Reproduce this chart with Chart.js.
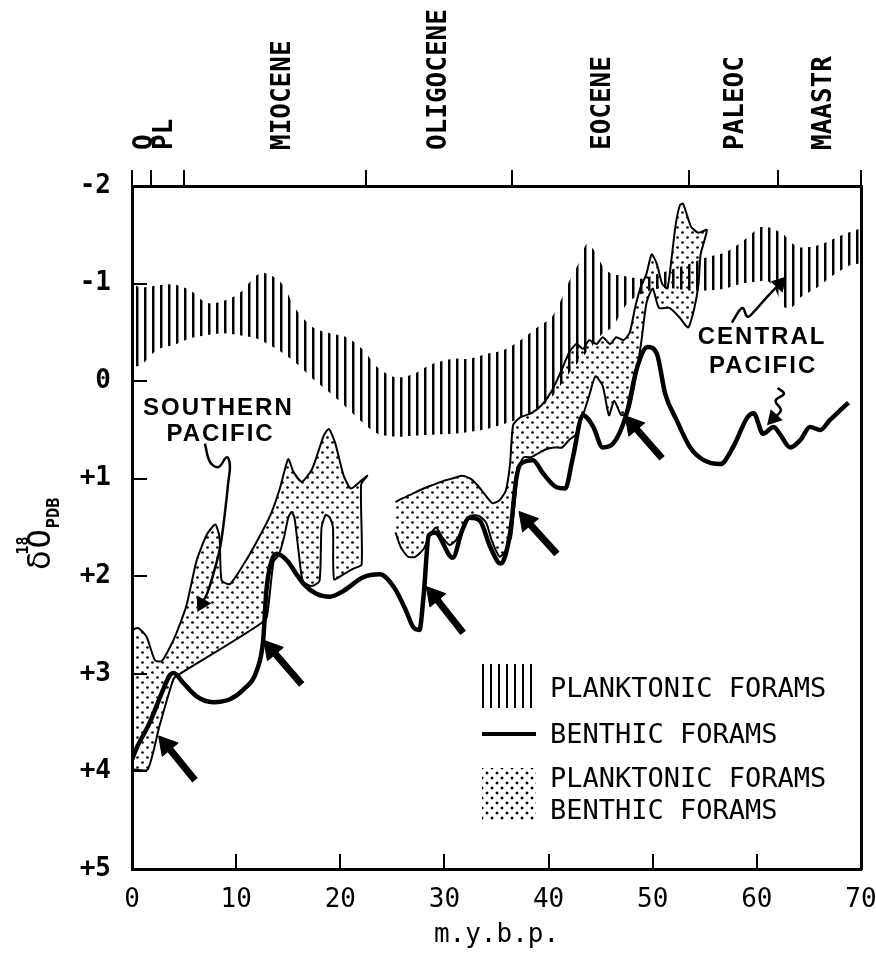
<!DOCTYPE html>
<html>
<head>
<meta charset="utf-8">
<title>Oxygen isotope record, planktonic and benthic forams</title>
<script src="https://cdn.jsdelivr.net/npm/chart.js@4.4.0/dist/chart.umd.min.js"></script>
<style>
  body { margin: 0; background: #fff; }
  #wrap { position: relative; width: 876px; height: 961px; }
  .leg { position: absolute; font-family: "DejaVu Sans Mono", monospace; font-size: 27px; color: #000; line-height: 30px; white-space: nowrap; }
  .sw { position: absolute; }
  #swHatch { left: 482px; top: 664px; width: 54px; height: 44px;
    background: repeating-linear-gradient(to right, #000 0 2.5px, transparent 2.5px 8px); }
  #swLine { left: 482px; top: 732px; width: 54px; height: 4px; background: #000; }
  #swDots { left: 482px; top: 768px; width: 54px; height: 52px;
    background-image: radial-gradient(circle, #000 1.3px, transparent 1.7px), radial-gradient(circle, #000 1.3px, transparent 1.7px);
    background-size: 10px 10px, 10px 10px; background-position: 0 0, 5px 5px; }
</style>
</head>
<body>
<div id="wrap">
  <canvas id="chart" width="876" height="961"></canvas>
  <div class="sw" id="swHatch"></div>
  <div class="leg" style="left:550px; top:673px;">PLANKTONIC FORAMS</div>
  <div class="sw" id="swLine"></div>
  <div class="leg" style="left:550px; top:719px;">BENTHIC FORAMS</div>
  <div class="sw" id="swDots"></div>
  <div class="leg" style="left:550px; top:763px;">PLANKTONIC FORAMS</div>
  <div class="leg" style="left:550px; top:795px;">BENTHIC FORAMS</div>
</div>
<script>
// epochs along the top (m.y.b.p.)
const epochBounds = [0, 1.8, 5, 22.5, 36.5, 53.5, 62, 70];
const epochNames = ["Q", "PL", "MIOCENE", "OLIGOCENE", "EOCENE", "PALEOC", "MAASTR"];
const epochCenters = [1.0, 2.9, 14.3, 29.2, 45, 57.75, 66.2];

// planktonic forams band (hatched), top and bottom edge
const hatchAge = [0, 0.8, 2.4, 4.0, 5.6, 7.2, 8.7, 10.3, 11.9, 12.7, 14.3, 15.8, 17.4, 19.0, 20.6, 22.2, 23.6, 25.3, 27.0, 28.7,
  30.8, 32.4, 34.1, 35.7, 37.3, 38.9, 40.4, 42.1, 42.9, 43.7, 44.5, 45.3, 46.1, 47.6, 49.0, 50.5, 52.0, 53.5, 55.2, 57.0,
  58.6, 60.2, 61.0, 61.8, 62.6, 63.4, 64.2, 65.8, 67.4, 69.0, 70];
const hatchTop = [-1.0, -0.96, -0.98, -0.99, -0.93, -0.8, -0.82, -0.9, -1.08, -1.11, -1.01, -0.73, -0.55, -0.49, -0.45, -0.32, -0.14, -0.04, -0.07, -0.17,
  -0.23, -0.23, -0.28, -0.32, -0.42, -0.55, -0.67, -1.05, -1.21, -1.41, -1.32, -1.16, -1.1, -1.07, -1.05, -1.1, -1.15, -1.2, -1.27, -1.32,
  -1.43, -1.57, -1.58, -1.55, -1.5, -1.41, -1.37, -1.39, -1.46, -1.53, -1.55];
const hatchBottom = [-0.15, -0.16, -0.32, -0.37, -0.44, -0.47, -0.49, -0.47, -0.44, -0.4, -0.3, -0.18, -0.02, 0.12, 0.27, 0.43, 0.54, 0.57, 0.56, 0.55,
  0.54, 0.52, 0.49, 0.44, 0.38, 0.3, 0.15, -0.1, -0.2, -0.3, -0.4, -0.5, -0.55, -0.8, -0.9, -0.95, -0.95, -0.93, -0.93, -0.95,
  -1.0, -1.02, -1.03, -0.93, -0.76, -0.76, -0.86, -0.96, -1.09, -1.19, -1.22];

// benthic forams (thick line)
const benthicAge = [0, 0.4, 1.7, 3.0, 3.65, 4.0, 4.9, 6.2, 7.8, 9.4, 10.7, 12.0, 12.6, 12.9, 13.3, 13.9, 14.9, 15.8, 16.5, 17.7,
  19.0, 20.3, 22.2, 23.8, 25.2, 26.3, 27.0, 27.6, 28.0, 28.5, 29.1, 30.8, 31.7, 32.4, 33.4, 34.4, 35.4, 36.3, 36.9, 37.3,
  38.5, 39.5, 40.8, 41.6, 42.3, 43.3, 44.3, 45.2, 46.2, 47.5, 48.5, 49.5, 50.4, 51.2, 52.3, 53.6, 54.9, 56.5, 57.7, 59.1,
  59.7, 60.6, 61.6, 62.2, 63.2, 64.2, 65.1, 66.1, 67.0, 68.2, 68.8];
const benthicO18 = [3.88, 3.77, 3.5, 3.16, 3.01, 2.99, 3.09, 3.23, 3.29, 3.26, 3.16, 2.96, 2.65, 2.15, 1.88, 1.77, 1.84, 1.98, 2.08, 2.18,
  2.21, 2.15, 2.01, 1.98, 2.12, 2.35, 2.52, 2.55, 2.2, 1.58, 1.55, 1.81, 1.53, 1.4, 1.43, 1.7, 1.87, 1.56, 1.0, 0.85,
  0.81, 0.95, 1.09, 1.1, 0.8, 0.35, 0.47, 0.68, 0.64, 0.33, -0.14, -0.35, -0.28, 0.13, 0.4, 0.68, 0.81, 0.85, 0.68, 0.37,
  0.33, 0.54, 0.47, 0.54, 0.68, 0.6, 0.47, 0.5, 0.4, 0.28, 0.22];

// stippled field, southern pacific (0-22 m.y.): upper edge left->right, lower edge right->left
const southUpperAge = [0, 0.6, 1.4, 2.2, 2.85, 4.0, 5.2, 6.2, 7.2, 8.0, 8.4, 8.6, 9.4, 10.7, 12.0, 13.3, 14.2, 15.0, 15.5, 16.3,
  17.3, 18.4, 18.9, 19.5, 20.3, 21.0, 21.9, 22.6];
const southUpper = [2.55, 2.53, 2.62, 2.86, 2.87, 2.65, 2.31, 1.84, 1.57, 1.47, 1.6, 2.04, 2.08, 1.88, 1.64, 1.37, 1.1, 0.8, 0.93, 1.03,
  0.9, 0.56, 0.49, 0.63, 0.96, 1.1, 1.03, 0.97];
const southLowerAge = [22.0, 22.05, 21.3, 20.3, 19.4, 19.3, 19.0, 18.6, 18.2, 18.0, 17.2, 16.4, 16.0, 15.6, 15.3, 15.0, 14.6, 14.1, 13.6, 13.1,
  12.8, 4.6, 4.0, 2.6, 1.5, 0];
const southLower = [1.06, 1.88, 1.92, 1.98, 2.03, 1.5, 1.4, 1.37, 1.5, 2.05, 2.1, 2.05, 1.75, 1.4, 1.34, 1.4, 1.6, 1.78, 1.85, 2.3,
  2.45, 3.0, 3.05, 3.55, 3.98, 3.98];

// stippled field, 25-55 m.y.
const midUpperAge = [25.3, 26.0, 27.0, 28.0, 29.0, 30.0, 31.0, 31.7, 32.5, 33.2, 33.8, 34.6, 35.3, 35.9, 36.3, 36.6, 37.3, 38.3, 39.3, 40.3,
  41.2, 42.0, 42.7, 43.3, 43.9, 44.6, 45.2, 45.9, 46.5, 47.2, 47.8, 48.3, 48.8, 49.4, 49.9, 50.4, 50.9, 51.4, 51.8, 52.2,
  52.6, 52.9, 53.3, 53.7, 54.4, 55.2];
const midUpper = [1.24, 1.2, 1.15, 1.1, 1.06, 1.02, 0.99, 0.97, 1.0, 1.07, 1.15, 1.25, 1.22, 1.12, 0.85, 0.45, 0.37, 0.33, 0.25, 0.1,
  -0.1, -0.3, -0.38, -0.33, -0.42, -0.38, -0.45, -0.38, -0.45, -0.42, -0.5, -0.75, -0.95, -1.1, -1.3, -1.2, -1.0, -0.95, -1.25, -1.6,
  -1.8, -1.82, -1.7, -1.58, -1.52, -1.55];
const midLowerAge = [54.6, 54.4, 54.0, 53.4, 52.6, 51.6, 50.6, 50.0, 49.4, 48.9, 48.3, 47.7, 47.0, 46.3, 45.8, 45.2, 44.5, 43.9, 43.3, 42.6,
  42.0, 41.3, 40.5, 39.7, 39.0, 38.3, 37.6, 37.1, 36.7, 36.4, 35.8, 35.3, 34.6, 34.0, 33.3, 32.5, 31.8, 31.2, 30.5, 29.8,
  29.2, 28.6, 28.0, 27.2, 26.5, 25.8, 25.3];
const midLower = [-1.3, -1.0, -0.75, -0.55, -0.65, -0.75, -0.75, -0.95, -0.8, -0.4, 0.0, 0.3, 0.35, 0.2, 0.35, 0.05, -0.05, 0.15, 0.35, 0.55,
  0.6, 0.68, 0.68, 0.7, 0.74, 0.78, 0.78, 0.9, 1.3, 1.6, 1.75, 1.8, 1.65, 1.45, 1.38, 1.38, 1.5, 1.62, 1.68, 1.6,
  1.5, 1.58, 1.72, 1.8, 1.8, 1.7, 1.55];

// short arrows: [tail age, tail value, head age, head value]
const arrows = [
  [6.05, 4.09, 3.3, 3.73],
  [16.3, 3.11, 13.4, 2.75],
  [31.8, 2.58, 29.0, 2.2],
  [40.8, 1.77, 37.9, 1.43],
  [50.9, 0.79, 48.1, 0.45]
];

// leader lines from the labels
const southPointerAge = [7.0, 7.5, 8.3, 9.1, 9.4, 9.25, 8.9, 8.45, 7.8, 7.2, 6.7];
const southPointer = [0.64, 0.83, 0.88, 0.78, 0.86, 1.03, 1.37, 1.71, 1.98, 2.18, 2.28];
const centralPointerAge = [57.6, 58.6, 59.1, 59.7, 60.7, 62.2];
const centralPointer = [-0.6, -0.75, -0.66, -0.71, -0.83, -1.0];
const centralPointer2Age = [62.0, 62.6, 61.8, 62.3, 61.6];
const centralPointer2 = [0.07, 0.13, 0.2, 0.3, 0.38];

const notes = [
  { text: "SOUTHERN", age: 8.3, value: 0.28 },
  { text: "PACIFIC", age: 8.5, value: 0.55 },
  { text: "CENTRAL", age: 60.5, value: -0.45 },
  { text: "PACIFIC", age: 60.6, value: -0.15 }
];

function pts(ages, vals) {
  return ages.map((a, i) => ({ x: a, y: vals[i] }));
}

function hatchPattern() {
  const c = document.createElement("canvas");
  c.width = 8; c.height = 8;
  const g = c.getContext("2d");
  g.fillStyle = "#000";
  g.fillRect(0, 0, 2.5, 8);
  return g.createPattern(c, "repeat");
}

function dotPattern() {
  const c = document.createElement("canvas");
  c.width = 10; c.height = 10;
  const g = c.getContext("2d");
  g.fillStyle = "#000";
  [[2.5, 2.5], [7.5, 7.5]].forEach(([x, y]) => {
    g.beginPath(); g.arc(x, y, 1.35, 0, Math.PI * 2); g.fill();
  });
  return g.createPattern(c, "repeat");
}

const hatchShape = pts(hatchAge, hatchTop).concat(pts(hatchAge, hatchBottom).reverse());
const southShape = pts(southUpperAge, southUpper).concat(pts(southLowerAge, southLower));
const midShape = pts(midUpperAge, midUpper).concat(pts(midLowerAge, midLower));

const datasets = [
  {
    label: "benthic forams",
    data: pts(benthicAge, benthicO18),
    borderColor: "#000", borderWidth: 4.5, pointRadius: 0,
    cubicInterpolationMode: "monotone", fill: false, order: 0
  }
];

arrows.forEach((a) => {
  datasets.push({
    data: [{ x: a[0], y: a[1] }, { x: a[2], y: a[3] }],
    borderColor: "#000", borderWidth: 7, fill: false, order: 0,
    pointRadius: [0, 12], pointStyle: "triangle", pointRotation: -40,
    pointBackgroundColor: "#000", pointBorderColor: "#000", pointBorderWidth: 1
  });
});

[
  [southPointerAge, southPointer, -152],
  [centralPointerAge, centralPointer, 43],
  [centralPointer2Age, centralPointer2, 223]
].forEach(([ages, vals, rot]) => {
  datasets.push({
    data: pts(ages, vals),
    borderColor: "#000", borderWidth: 2.5, tension: 0.4, fill: false, order: 0,
    pointRadius: ages.map((_, i) => (i === ages.length - 1 ? 7 : 0)),
    pointStyle: "triangle", pointRotation: rot,
    pointBackgroundColor: "#000", pointBorderColor: "#000"
  });
});

datasets.push({
  label: "planktonic + benthic (southern)",
  data: southShape, fill: "shape", backgroundColor: dotPattern(),
  borderColor: "#000", borderWidth: 2, tension: 0.2, pointRadius: 0, order: 1
});
datasets.push({
  label: "planktonic + benthic",
  data: midShape, fill: "shape", backgroundColor: dotPattern(),
  borderColor: "#000", borderWidth: 2, tension: 0.2, pointRadius: 0, order: 1
});
datasets.push({
  label: "planktonic forams",
  data: hatchShape, fill: "shape", backgroundColor: hatchPattern(),
  borderWidth: 0, borderColor: "rgba(0,0,0,0)", tension: 0.3, pointRadius: 0, order: 2
});

// labels written in data coordinates
const noteText = {
  id: "noteText",
  afterDatasetsDraw(chart) {
    const { ctx, scales } = chart;
    ctx.save();
    ctx.fillStyle = "#000";
    ctx.font = 'bold 24px "Liberation Sans"';
    ctx.letterSpacing = "2px";
    ctx.textAlign = "center";
    ctx.textBaseline = "middle";
    notes.forEach((n) => {
      ctx.fillText(n.text, scales.x.getPixelForValue(n.age), scales.y.getPixelForValue(n.value));
    });
    ctx.restore();
  }
};

// y axis title: delta 18 O PDB
const yTitle = {
  id: "yTitle",
  afterDraw(chart) {
    const ctx = chart.ctx;
    ctx.save();
    ctx.translate(42, 570);
    ctx.rotate(-Math.PI / 2);
    ctx.fillStyle = "#000";
    ctx.textBaseline = "middle";
    ctx.textAlign = "left";
    ctx.font = '32px "DejaVu Sans"';
    ctx.fillText("\u03b4", 0, 0);
    const wd = ctx.measureText("\u03b4").width;
    ctx.font = 'bold 15px "DejaVu Sans Mono"';
    ctx.fillText("18", wd - 4, -18);
    ctx.font = '32px "DejaVu Sans Mono"';
    ctx.fillText("O", wd + 2, 0);
    const wo = ctx.measureText("O").width;
    ctx.font = 'bold 17px "DejaVu Sans Mono"';
    ctx.fillText("PDB", wd + wo + 3, 13);
    ctx.restore();
  }
};

// keep the plot frame where the original has it
const noSidePad = (h) => (s) => { s.height = h; s.paddingLeft = 0; s.paddingRight = 0; };
const noEndPad = (w) => (s) => { s.width = w; s.paddingTop = 0; s.paddingBottom = 0; };

const black = "#000";
new Chart(document.getElementById("chart"), {
  type: "line",
  data: { datasets: datasets },
  options: {
    responsive: false,
    animation: false,
    devicePixelRatio: 1,
    layout: { padding: 0 },
    plugins: { legend: { display: false }, tooltip: { enabled: false } },
    scales: {
      x: {
        type: "linear", position: "bottom", min: 0, max: 70,
        ticks: { stepSize: 10, color: black, padding: 31, font: { family: "DejaVu Sans Mono", size: 26 } },
        grid: { drawOnChartArea: false, tickLength: -15, lineWidth: 2, color: black },
        border: { color: black, width: 3 },
        title: { display: true, text: "m.y.b.p.", color: black, padding: { top: 0, bottom: 10 },
          font: { family: "DejaVu Sans Mono", size: 26 } },
        afterFit: noSidePad(92)
      },
      xb: {
        type: "linear", position: "top", min: 0, max: 70, weight: 0,
        afterBuildTicks: (s) => { s.ticks = epochBounds.map((v) => ({ value: v })); },
        ticks: { display: false },
        grid: { drawOnChartArea: false, tickLength: 16, lineWidth: 2, color: black },
        border: { color: black, width: 3 },
        afterFit: noSidePad(16)
      },
      xe: {
        type: "linear", position: "top", min: 0, max: 70, weight: 1,
        afterBuildTicks: (s) => { s.ticks = epochCenters.map((v) => ({ value: v })); },
        ticks: {
          autoSkip: false, minRotation: 90, maxRotation: 90, padding: 20, labelOffset: 34, color: black,
          font: { family: "DejaVu Sans Mono", size: 26, weight: "bold" },
          callback: (v, i) => epochNames[i]
        },
        grid: { display: false, drawTicks: false },
        border: { display: false },
        afterFit: noSidePad(170)
      },
      y: {
        type: "linear", position: "left", min: -2, max: 5, reverse: true,
        ticks: {
          stepSize: 1, color: black, padding: 36,
          font: { family: "DejaVu Sans Mono", size: 26, weight: "bold" },
          callback: (v) => (v > 0 ? "+" + v : String(v))
        },
        grid: { drawOnChartArea: false, tickLength: -15, lineWidth: 2, color: black },
        border: { color: black, width: 3 },
        afterFit: noEndPad(132)
      },
      yr: {
        type: "linear", position: "right", min: -2, max: 5, reverse: true,
        ticks: { display: false },
        grid: { display: false, drawTicks: false },
        border: { color: black, width: 3 },
        afterFit: noEndPad(15)
      }
    }
  },
  plugins: [noteText, yTitle]
});
</script>
</body>
</html>
